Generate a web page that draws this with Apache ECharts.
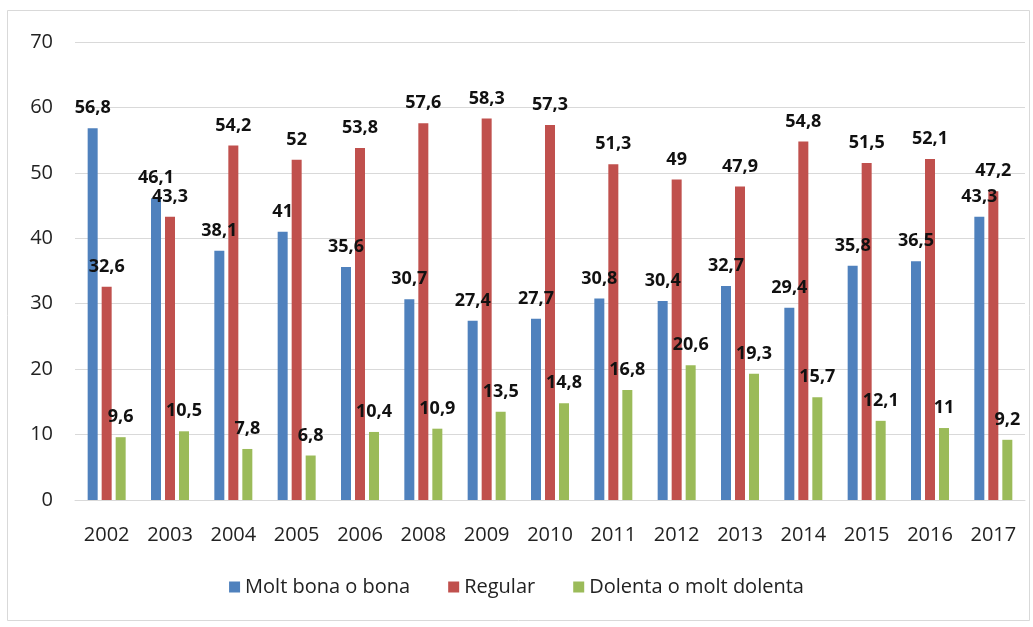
<!DOCTYPE html>
<html>
<head>
<meta charset="utf-8">
<script src="https://cdn.jsdelivr.net/npm/echarts@6/dist/echarts.min.js"></script>
<style>
  html, body { margin: 0; padding: 0; background: #fff; }
  #chart { width: 1033px; height: 627px; }
</style>
</head>
<body>
<div id="chart"></div>
<script>
var years = ['2002', '2003', '2004', '2005', '2006', '2008', '2009', '2010', '2011', '2012', '2013', '2014', '2015', '2016', '2017'];
var bona = [56.8, 46.1, 38.1, 41, 35.6, 30.7, 27.4, 27.7, 30.8, 30.4, 32.7, 29.4, 35.8, 36.5, 43.3];
var regular = [32.6, 43.3, 54.2, 52, 53.8, 57.6, 58.3, 57.3, 51.3, 49, 47.9, 54.8, 51.5, 52.1, 47.2];
var dolenta = [9.6, 10.5, 7.8, 6.8, 10.4, 10.9, 13.5, 14.8, 16.8, 20.6, 19.3, 15.7, 12.1, 11, 9.2];
var seriesNames = ['Molt bona o bona', 'Regular', 'Dolenta o molt dolenta'];
var colors = ['#4F81BD', '#C0504D', '#9BBB59'];

var fontFamily = 'Open Sans, Liberation Sans, sans-serif';

function makeSeries(name, data, color) {
    return {
        name: name,
        type: 'bar',
        data: data,
        barWidth: 10,
        barGap: '40%',
        itemStyle: { color: color },
        label: {
            show: true,
            position: 'top',
            distance: 11,
            color: '#111',
            fontWeight: 'bold',
            fontSize: 18,
            fontFamily: fontFamily,
            formatter: function (p) {
                return String(p.value).replace('.', ',');
            }
        }
    };
}

var chart = echarts.init(document.getElementById('chart'));
chart.setOption({
    animation: false,
    backgroundColor: '#fff',
    graphic: [{
        type: 'rect',
        shape: { x: 7.5, y: 10.5, width: 1022, height: 610 },
        style: { fill: 'none', stroke: '#d9d9d9', lineWidth: 1 },
        z: -1
    }],
    grid: { left: 75, right: 8, top: 42, bottom: 127 },
    legend: {
        bottom: 25,
        itemWidth: 11,
        itemHeight: 11,
        itemGap: 38,
        icon: 'rect',
        textStyle: { fontSize: 20, color: '#222', fontFamily: fontFamily },
        data: seriesNames
    },
    xAxis: {
        type: 'category',
        data: years,
        axisLine: { lineStyle: { color: '#d9d9d9' } },
        axisTick: { show: false },
        axisLabel: { color: '#222', fontSize: 20, margin: 25, fontFamily: fontFamily }
    },
    yAxis: {
        type: 'value',
        min: 0,
        max: 70,
        interval: 10,
        axisLine: { show: false },
        axisTick: { show: false },
        splitLine: { lineStyle: { color: '#d9d9d9' } },
        axisLabel: { color: '#222', fontSize: 20, margin: 22, fontFamily: fontFamily }
    },
    series: [
        makeSeries(seriesNames[0], bona, colors[0]),
        makeSeries(seriesNames[1], regular, colors[1]),
        makeSeries(seriesNames[2], dolenta, colors[2])
    ]
});
</script>
</body>
</html>
